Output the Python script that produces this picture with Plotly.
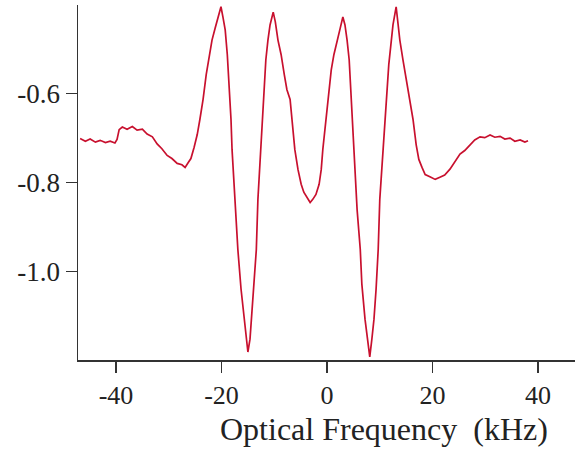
import plotly.graph_objects as go

# Optical frequency (kHz) and signal
freq_khz = [
    -46.8, -45.8, -44.9, -43.9, -43.0, -42.0, -41.1, -40.2, -39.8, -39.4,
    -38.8, -37.9, -36.9, -36.0, -35.0, -34.1, -33.1, -32.2, -31.3, -30.3,
    -29.4, -28.4, -27.5, -26.9, -26.3, -25.8, -25.2, -24.6, -24.1, -23.5,
    -22.9, -22.3, -21.8, -21.2, -20.6, -20.1, -19.7, -19.3, -18.9, -18.6,
    -18.2, -18.0, -17.6, -17.2, -16.9, -16.3, -15.7, -15.3, -15.0, -14.6,
    -14.2, -13.8, -13.4, -13.1, -12.7, -12.3, -11.9, -11.6, -11.2, -10.8,
    -10.2, -9.8, -9.3, -8.7, -8.1, -7.6, -7.0, -6.4, -6.1, -5.5,
    -4.9, -4.4, -3.8, -3.2, -2.7, -2.1, -1.5, -1.1, -0.8, -0.4,
    0.0, 0.4, 0.8, 1.3, 1.9, 2.5, 3.0, 3.4, 3.8, 4.2,
    4.5, 4.9, 5.3, 5.7, 6.3, 6.6, 7.2, 7.8, 8.1, 8.5,
    8.9, 9.3, 9.7, 10.0, 10.6, 11.0, 11.4, 11.7, 12.1, 12.5,
    13.1, 13.4, 13.8, 14.4, 15.0, 15.7, 16.3, 16.9, 17.4, 18.0,
    18.6, 19.5, 20.5, 21.4, 22.3, 23.3, 24.2, 25.2, 26.1, 27.1,
    28.0, 29.0, 29.9, 30.9, 31.8, 32.8, 33.7, 34.7, 35.6, 36.6,
    37.5, 38.1,
]
signal = [
    -0.701, -0.707, -0.702, -0.709, -0.705, -0.710, -0.707, -0.711, -0.703, -0.681,
    -0.675, -0.680, -0.674, -0.682, -0.680, -0.691, -0.697, -0.713, -0.724, -0.739,
    -0.746, -0.757, -0.760, -0.766, -0.755, -0.746, -0.721, -0.692, -0.658, -0.613,
    -0.557, -0.512, -0.479, -0.452, -0.422, -0.404, -0.429, -0.456, -0.512, -0.569,
    -0.658, -0.726, -0.816, -0.883, -0.951, -1.040, -1.108, -1.153, -1.182, -1.153,
    -1.085, -1.018, -0.951, -0.838, -0.748, -0.658, -0.591, -0.524, -0.479, -0.445,
    -0.416, -0.438, -0.479, -0.512, -0.557, -0.591, -0.613, -0.681, -0.726, -0.771,
    -0.804, -0.822, -0.834, -0.845, -0.838, -0.827, -0.804, -0.771, -0.726, -0.681,
    -0.636, -0.591, -0.546, -0.512, -0.479, -0.452, -0.427, -0.445, -0.479, -0.524,
    -0.591, -0.681, -0.771, -0.861, -0.951, -1.029, -1.108, -1.164, -1.193, -1.153,
    -1.108, -1.040, -0.951, -0.838, -0.726, -0.658, -0.591, -0.535, -0.490, -0.445,
    -0.404, -0.434, -0.479, -0.524, -0.569, -0.613, -0.658, -0.715, -0.748, -0.766,
    -0.782, -0.787, -0.793, -0.788, -0.783, -0.770, -0.755, -0.736, -0.728, -0.714,
    -0.704, -0.697, -0.699, -0.693, -0.698, -0.696, -0.702, -0.700, -0.707, -0.704,
    -0.709, -0.706,
]
assert len(freq_khz) == len(signal)

x_tickvals = [-40, -20, 0, 20, 40]
x_ticktext = ["-40", "-20", "0", "20", "40"]
y_tickvals = [-1.0, -0.8, -0.6]
y_ticktext = ["-1.0", "-0.8", "-0.6"]
x_title = "Optical Frequency  (kHz)"

font_family = "Liberation Serif, Times New Roman, serif"
axis_color = "#333333"

fig = go.Figure()
fig.add_trace(go.Scatter(
    x=freq_khz, y=signal, mode="lines",
    line=dict(color="#c8102e", width=1.7),
    hoverinfo="skip",
))

fig.update_layout(
    width=576, height=452,
    margin=dict(l=78, r=1, t=5, b=92),
    paper_bgcolor="white", plot_bgcolor="white",
    showlegend=False,
    font=dict(family=font_family, size=26, color="#222222"),
    xaxis=dict(
        range=[-47.2, 47.0],
        tickmode="array", tickvals=x_tickvals, ticktext=x_ticktext,
        showline=True, linecolor=axis_color, linewidth=1.5,
        ticks="outside", ticklen=11, tickwidth=1.3, tickcolor=axis_color,
        showgrid=False, zeroline=False, automargin=False,
        tickfont=dict(family=font_family, size=26, color="#222222"),
    ),
    yaxis=dict(
        range=[-1.2, -0.4],
        tickmode="array", tickvals=y_tickvals, ticktext=y_ticktext,
        showline=True, linecolor=axis_color, linewidth=1.5,
        ticks="outside", ticklen=11, tickwidth=1.3, tickcolor=axis_color,
        showgrid=False, zeroline=False, automargin=False,
        tickfont=dict(family=font_family, size=27, color="#222222"),
    ),
    annotations=[dict(
        text=x_title, xref="paper", yref="paper",
        x=0.615, y=-0.195, xanchor="center", yanchor="middle",
        showarrow=False,
        font=dict(family=font_family, size=32, color="#222222"),
    )],
)

fig.write_html(
    "out.html",
    config={"displayModeBar": False, "staticPlot": True},
    post_script="document.body.style.margin='0';document.body.style.overflow='hidden';",
)
